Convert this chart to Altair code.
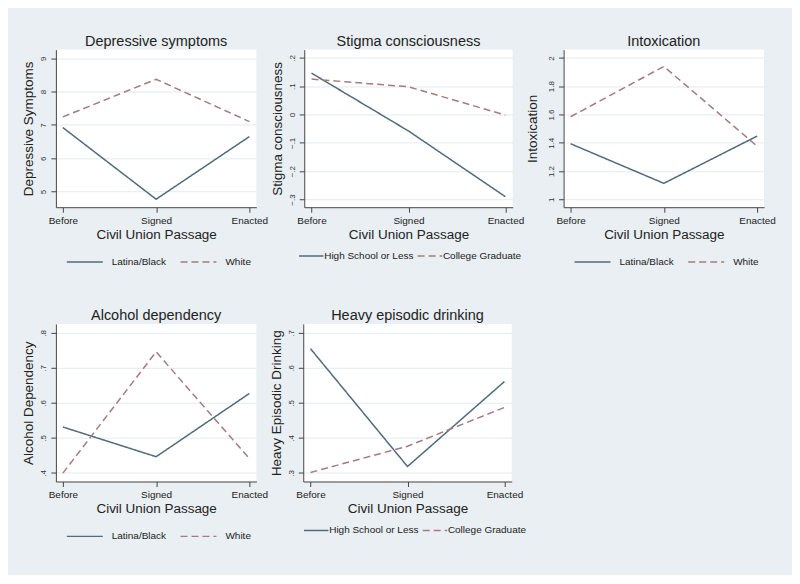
import altair as alt
import pandas as pd

periods = ["Before", "Signed", "Enacted"]
race_groups = ["Latina/Black", "White"]
edu_groups = ["High School or Less", "College Graduate"]

dep_latina = [6.92, 4.77, 6.65]
dep_white = [7.24, 8.37, 7.10]
stig_hs = [0.146, -0.058, -0.29]
stig_col = [0.125, 0.098, -0.002]
intox_latina = [1.393, 1.113, 1.447]
intox_white = [1.584, 1.94, 1.376]
alc_latina = [0.531, 0.446, 0.627]
alc_white = [0.399, 0.746, 0.441]
heavy_hs = [0.655, 0.318, 0.561]
heavy_col = [0.301, 0.376, 0.487]

dep_ticks = [5, 6, 7, 8, 9]
stig_ticks = [-0.3, -0.2, -0.1, 0, 0.1, 0.2]
intox_ticks = [1, 1.2, 1.4, 1.6, 1.8, 2]
alc_ticks = [0.4, 0.5, 0.6, 0.7, 0.8]
heavy_ticks = [0.3, 0.4, 0.5, 0.6, 0.7]

C_SOLID = "#4f6b7c"
C_DASH = "#a67a80"
FONT = "Liberation Sans"


def panel(title, ytitle, groups, v1, v2, domain, ticks, w, wide_legend=False, tpad=4, lx=10):
    df = pd.DataFrame({
        "period": periods * 2,
        "value": v1 + v2,
        "group": [groups[0]] * 3 + [groups[1]] * 3,
    })
    if wide_legend:
        leg = alt.Legend(title=None, orient="none", direction="horizontal",
                         legendX=lx, legendY=194,
                         symbolType="stroke", symbolSize=600, symbolStrokeWidth=1.5,
                         labelFont=FONT, labelFontSize=10, labelColor="#222",
                         columnPadding=0, labelOffset=0)
    else:
        leg = alt.Legend(title=None, orient="none", direction="horizontal",
                         legendX=lx, legendY=194,
                         symbolType="stroke", symbolSize=1300, symbolStrokeWidth=1.5,
                         labelFont=FONT, labelFontSize=10, labelColor="#222",
                         columnPadding=10, labelOffset=8)
    return alt.Chart(df).mark_line(strokeWidth=1.5).encode(
        x=alt.X("period:N", sort=periods,
                scale=alt.Scale(type="point", padding=0.075),
                axis=alt.Axis(title="Civil Union Passage", labelAngle=0, grid=False,
                              labelFontSize=10, titleFontSize=13.5, titleFontWeight="normal",
                              labelFont=FONT, titleFont=FONT, labelColor="#222", titleColor="#222",
                              domainColor="#444", tickColor="#444", tickSize=5,
                              labelPadding=3, titlePadding=2)),
        y=alt.Y("value:Q", scale=alt.Scale(domain=domain, nice=False, zero=False),
                axis=alt.Axis(title=ytitle, values=ticks,
                              labelExpr="replace(format(datum.value, '.1~f'), '0.', '.')",
                              labelAngle=270, labelFontSize=8, titleFontSize=13.5,
                              titleFontWeight="normal", labelFont=FONT, titleFont=FONT,
                              labelColor="#333", titleColor="#222",
                              grid=True, gridColor="#e4eaee", gridWidth=1,
                              domainColor="#444", tickColor="#444", tickSize=5,
                              labelPadding=3, titlePadding=tpad)),
        color=alt.Color("group:N", scale=alt.Scale(domain=groups, range=[C_SOLID, C_DASH]), legend=leg),
        strokeDash=alt.StrokeDash("group:N", scale=alt.Scale(domain=groups, range=[[1, 0], [7, 4]]), legend=leg),
    ).properties(width=w, height=158,
                 title=alt.TitleParams(title, fontSize=14.5, font=FONT, fontWeight="normal",
                                       color="#222", offset=0))


p1 = panel("Depressive symptoms", "Depressive Symptoms", race_groups, dep_latina, dep_white, [4.53, 9.26], dep_ticks, 201)
p2 = panel("Stigma consciousness", "Stigma consciousness", edu_groups, stig_hs, stig_col, [-0.327, 0.229], stig_ticks, 209, wide_legend=True, lx=-6)
p3 = panel("Intoxication", "Intoxication", race_groups, intox_latina, intox_white, [0.944, 2.059], intox_ticks, 201, tpad=8)
p4 = panel("Alcohol dependency", "Alcohol Dependency", race_groups, alc_latina, alc_white, [0.375, 0.826], alc_ticks, 201)
p5 = panel("Heavy episodic drinking", "Heavy Episodic Drinking", edu_groups, heavy_hs, heavy_col, [0.275, 0.726], heavy_ticks, 209, wide_legend=True, lx=0)

top = alt.hconcat(p1, p2, p3, spacing=1).resolve_scale(color="independent", strokeDash="independent")
bottom = alt.hconcat(p4, p5, spacing=1).resolve_scale(color="independent", strokeDash="independent")

chart = alt.vconcat(top, bottom, spacing=41).resolve_scale(
    color="independent", strokeDash="independent"
).properties(
    background="#e9eff2",
    padding={"left": 14, "top": 25, "right": 16, "bottom": 33},
).configure_view(fill="white", strokeWidth=0)

chart.save("out.html", embed_options={"renderer": "svg", "actions": False})
